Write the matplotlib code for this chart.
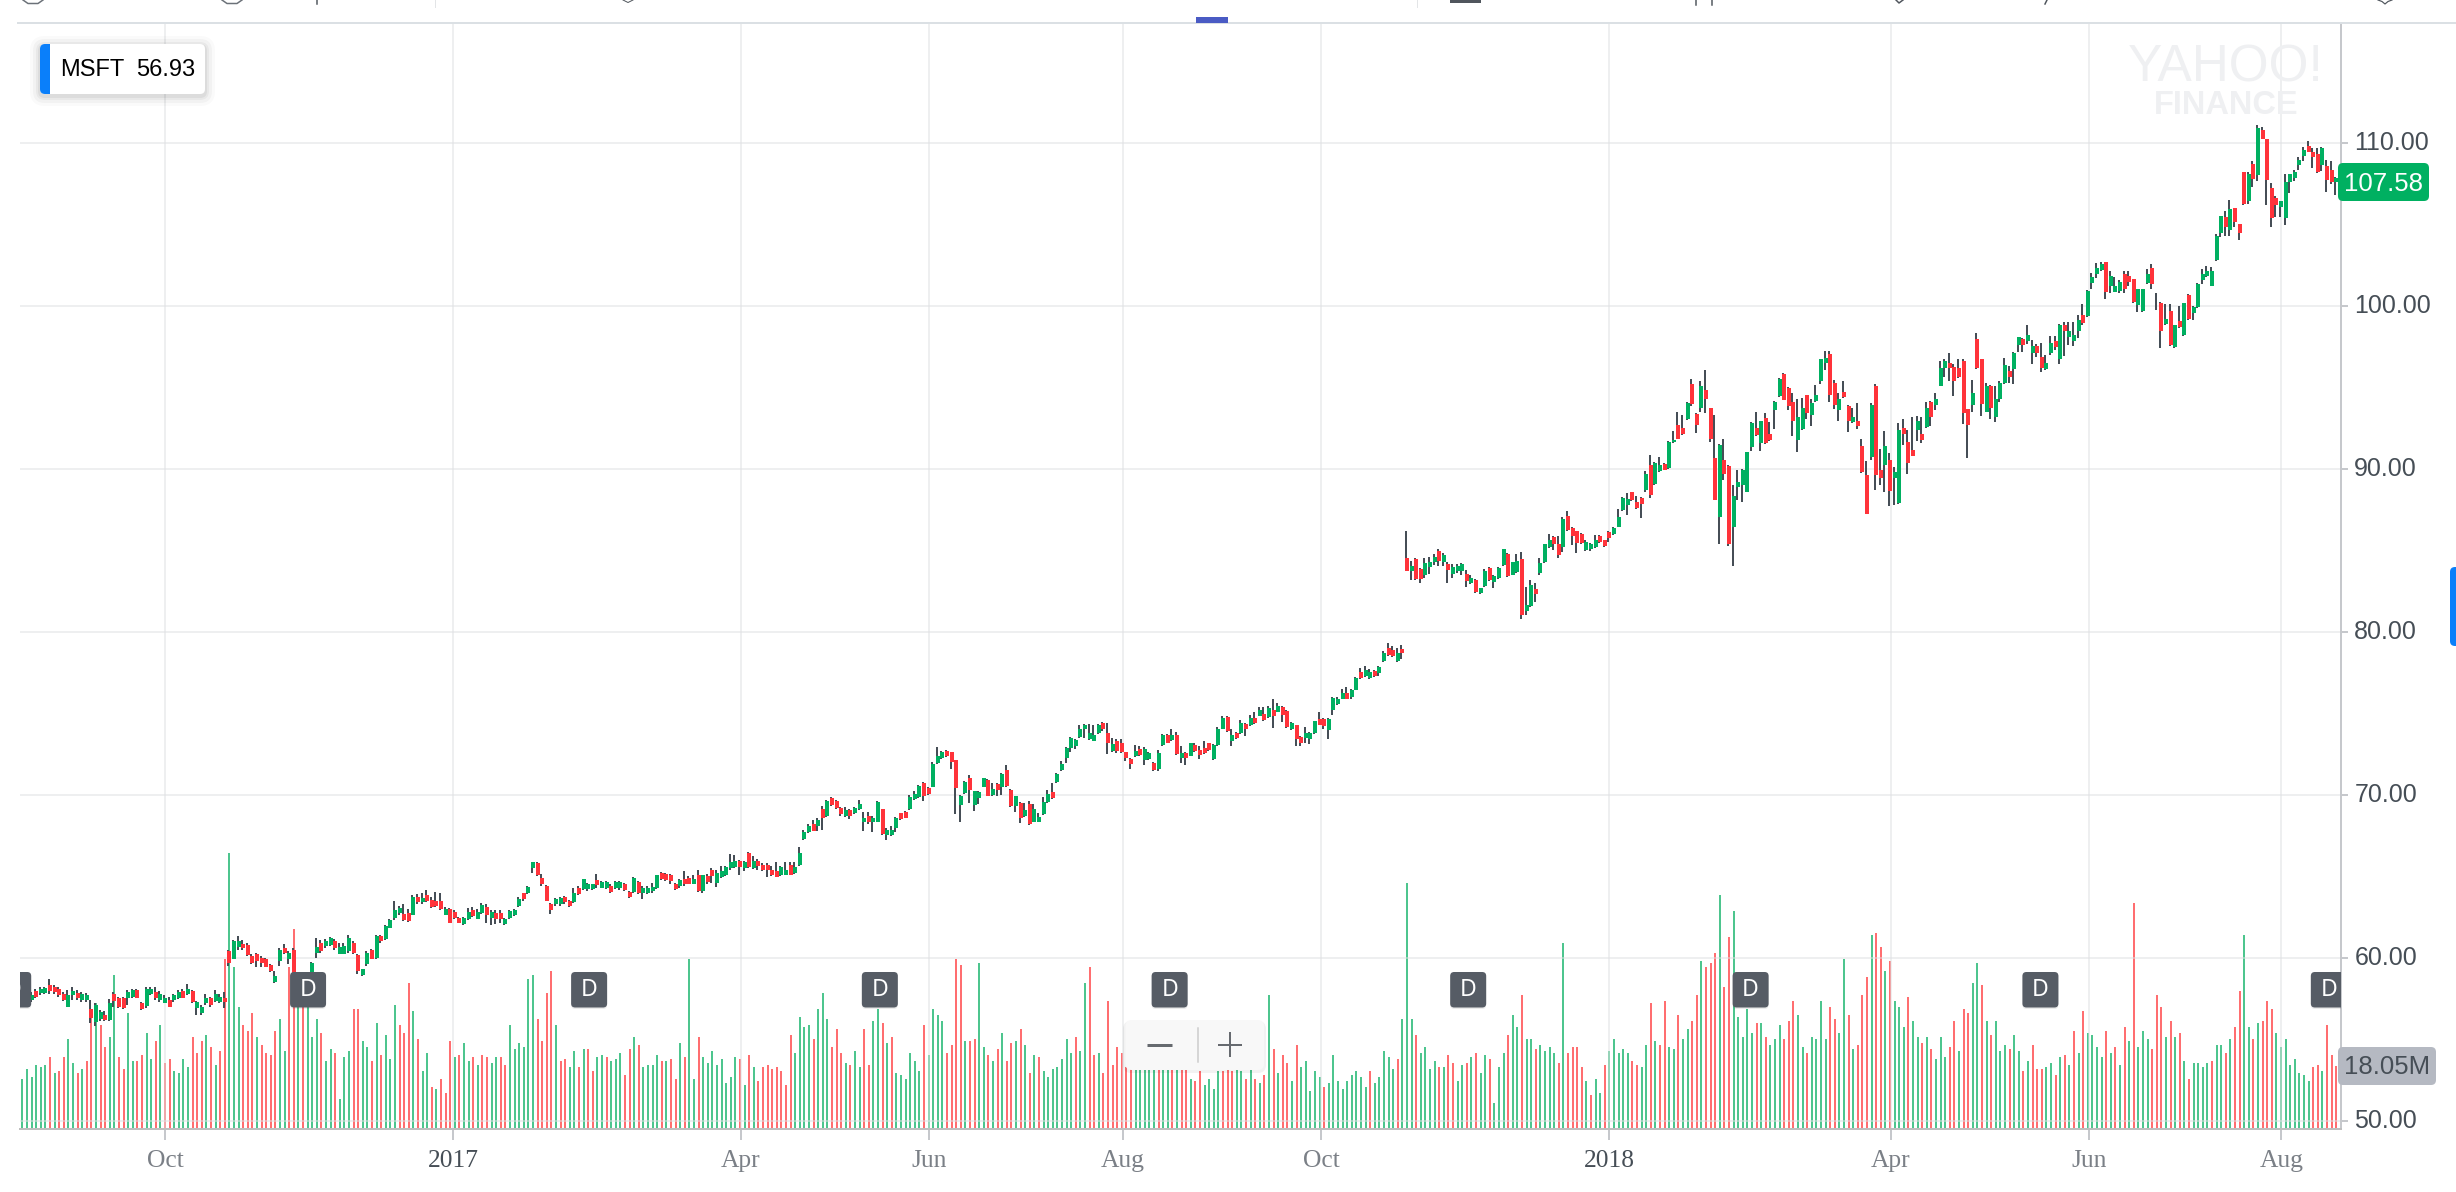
# MSFT candles and volume, daily, Aug 2016 - Aug 2018
import matplotlib
matplotlib.use("Agg")
import matplotlib.pyplot as plt
from matplotlib.patches import FancyBboxPatch, Rectangle
from matplotlib.transforms import ScaledTranslation

# Candle bodies and wicks, one entry per trading day
candle_colors = (
    "gggrggrrrr" "ggrggrggrg" "rrrggrrggr" "ggrggrgrgg" "grggrrggrr" "rrrrrggrgr" "gggggrggrg" "ggrrggrgrg" "gggrrgrgrr"
    "rrgrrrggrg" "grgrrggggr" "ggrrrrggrr" "grgggrggrg" "grrgrggggr" "rrrgrrgrgr" "rgggggrgrg" "rrrrrggrgg" "ggrgrgrrrg"
    "rgggrggrgg" "grrgggrrgg" "grrrggrggg" "rgrgrrgrgr" "ggggrggggg" "gggggrrgrr" "rrgrggrggr" "grgrgrrrrg" "ggrgrgrgrg"
    "rgrgrrgrrg" "ggrrggggrg" "grggrggrrg" "rrgrrgggrg" "rgggrgrggr" "gggrggrggr" "gggrrgrrrr" "gggrrrgggg" "rrrgrggrgg"
    "rrgrrgrrrg" "rrgggggrgr" "rggrrrggrg" "gggrrgrrgr" "rrgrrgrggr" "rrgrgrgggr" "rrrrgrrgrg" "ggrggrggrr" "ggrgrgggrg"
    "gggrgggrrr" "gggrgrgrgr" "grgggggggr" "grrrgrgrrr" "rggggggrrr" "grrg"
)

body_tops = [
    57.65, 57.65, 57.7, 57.95, 58.05, 58.15, 58.3, 58.2, 58.1, 57.75,
    57.7, 57.95, 57.85, 57.75, 57.7, 56.85, 57.1, 56.65, 56.5, 57.25,
    57.75, 57.5, 57.5, 57.9, 58.0, 58.0, 57.2, 58.1, 58.1, 57.9,
    57.8, 57.55, 57.4, 57.7, 57.9, 57.95, 58.1, 57.95, 57.3, 56.95,
    57.55, 57.5, 57.8, 57.6, 57.55, 60.4, 61.0, 61.0, 60.85, 60.8,
    60.1, 60.2, 60.0, 59.9, 59.55, 58.85, 60.5, 60.6, 60.3, 60.5,
    59.1, 59.1, 59.0, 59.7, 60.65, 60.9, 61.0, 61.2, 61.0, 60.65,
    60.7, 61.2, 60.9, 60.15, 59.3, 60.3, 60.5, 61.35, 61.35, 61.95,
    62.3, 62.95, 63.05, 62.7, 62.75, 63.75, 63.75, 63.65, 63.85, 63.55,
    63.5, 63.45, 63.0, 63.0, 62.8, 62.45, 62.45, 62.8, 62.9, 62.8,
    63.25, 63.1, 62.8, 62.75, 62.75, 62.4, 62.85, 62.95, 63.6, 63.95,
    64.35, 65.85, 65.8, 64.9, 64.4, 63.3, 63.6, 63.65, 63.75, 63.5,
    64.0, 64.3, 64.8, 64.5, 64.5, 64.75, 64.65, 64.65, 64.4, 64.65,
    64.65, 64.55, 64.05, 64.9, 64.65, 64.3, 64.3, 64.35, 65.05, 65.2,
    65.15, 65.05, 64.55, 64.75, 64.8, 64.9, 64.85, 65.05, 65.05, 65.0,
    65.4, 65.2, 65.3, 65.55, 65.85, 65.95, 65.95, 65.85, 66.4, 65.95,
    65.95, 65.7, 65.7, 65.4, 65.3, 65.55, 65.4, 65.7, 65.55, 66.4,
    67.7, 68.1, 68.2, 68.45, 69.1, 69.6, 69.8, 69.6, 69.2, 69.05,
    69.05, 69.2, 69.45, 68.6, 68.7, 68.6, 69.55, 69.1, 67.85, 67.85,
    68.6, 68.85, 68.95, 69.85, 70.05, 70.55, 70.7, 70.4, 71.9, 72.35,
    72.6, 72.7, 72.6, 72.1, 69.95, 70.8, 71.0, 70.2, 70.15, 71.0,
    70.9, 70.35, 70.65, 71.3, 71.5, 70.3, 69.9, 69.5, 69.05, 69.4,
    69.15, 68.65, 69.55, 70.05, 70.15, 71.3, 71.9, 72.85, 73.5, 73.35,
    74.0, 74.3, 73.8, 73.65, 74.3, 74.4, 73.8, 73.1, 73.3, 73.2,
    72.6, 72.2, 72.7, 72.8, 72.8, 72.55, 71.95, 72.55, 73.65, 73.65,
    73.65, 73.65, 72.55, 72.55, 73.15, 73.05, 72.75, 72.85, 73.15, 73.05,
    74.0, 74.7, 74.75, 73.65, 73.8, 74.4, 74.35, 74.7, 74.7, 75.2,
    74.95, 75.3, 75.2, 75.45, 75.35, 75.15, 74.4, 74.25, 73.55, 73.8,
    73.8, 74.5, 74.65, 74.65, 74.65, 75.95, 75.9, 76.25, 76.25, 76.4,
    77.15, 77.5, 77.65, 77.55, 77.6, 77.85, 78.7, 79.0, 78.85, 78.7,
    78.95, 84.5, 84.05, 84.45, 83.85, 84.2, 84.25, 84.6, 84.95, 84.7,
    84.15, 83.95, 84.0, 84.15, 83.55, 83.3, 83.2, 82.65, 83.75, 83.9,
    83.4, 83.9, 85.05, 84.75, 84.25, 84.35, 84.45, 81.65, 82.85, 82.6,
    84.2, 85.35, 85.6, 85.8, 85.4, 86.9, 87.1, 86.35, 86.15, 86.0,
    85.5, 85.35, 85.6, 85.9, 85.6, 86.1, 86.35, 87.05, 88.2, 88.15,
    88.55, 87.95, 88.2, 89.7, 90.2, 90.35, 90.25, 90.3, 91.65, 91.75,
    92.65, 92.5, 94.0, 95.2, 93.35, 95.05, 94.8, 93.7, 90.65, 91.45,
    90.55, 90.15, 88.35, 89.2, 89.95, 91.0, 92.8, 92.5, 92.9, 93.1,
    92.1, 94.1, 95.5, 95.8, 94.95, 94.1, 93.2, 93.75, 94.5, 94.0,
    94.5, 96.7, 96.8, 97.05, 95.25, 94.25, 94.7, 93.85, 93.2, 92.95,
    91.4, 89.6, 93.9, 95.1, 89.95, 91.4, 90.55, 89.8, 92.4, 92.5,
    91.65, 91.15, 92.95, 92.1, 93.7, 94.1, 94.25, 96.15, 96.6, 96.5,
    96.25, 96.15, 96.6, 93.65, 94.65, 97.95, 96.75, 95.1, 95.1, 94.3,
    95.25, 96.35, 96.0, 97.1, 98.05, 97.95, 98.2, 97.5, 97.5, 96.85,
    96.5, 97.7, 97.85, 98.8, 98.8, 98.45, 98.2, 99.1, 99.45, 100.9,
    101.75, 102.3, 102.55, 102.65, 101.8, 101.2, 101.45, 101.95, 101.8, 101.65,
    101.0, 101.0, 101.95, 102.3, 100.2, 100.15, 99.2, 99.65, 98.8, 99.05,
    100.15, 100.65, 99.9, 101.3, 101.95, 102.15, 102.1, 104.25, 105.5, 105.45,
    105.95, 106.0, 105.0, 108.2, 108.1, 108.7, 110.9, 110.75, 110.25, 107.2,
    106.6, 106.4, 107.6, 108.05, 108.2, 108.95, 109.55, 109.8, 109.4, 109.3,
    109.7, 108.55, 108.3, 107.85,
]

body_bottoms = [
    57.4, 57.4, 57.4, 57.6, 57.85, 57.85, 57.95, 57.9, 57.7, 57.4,
    57.0, 57.7, 57.5, 57.4, 57.4, 56.3, 56.05, 56.25, 56.15, 56.15,
    57.35, 56.95, 56.9, 57.5, 57.6, 57.55, 56.85, 57.05, 57.8, 57.5,
    57.4, 57.25, 57.0, 57.4, 57.55, 57.55, 57.75, 57.3, 56.9, 56.6,
    57.2, 57.1, 57.35, 57.3, 57.3, 59.7, 59.95, 60.65, 60.6, 60.15,
    59.65, 59.8, 59.7, 59.45, 59.2, 58.5, 59.8, 60.3, 59.95, 59.0,
    58.6, 58.7, 58.5, 59.0, 60.3, 60.4, 60.7, 60.8, 60.6, 60.25,
    60.25, 60.4, 60.3, 59.2, 58.95, 59.6, 59.9, 60.0, 61.0, 61.15,
    61.85, 62.45, 62.75, 62.3, 62.25, 62.65, 63.4, 63.4, 63.5, 63.1,
    63.2, 63.0, 62.65, 62.15, 62.45, 62.15, 62.05, 62.35, 62.55, 62.4,
    62.75, 62.6, 62.45, 62.4, 62.4, 62.05, 62.45, 62.65, 63.2, 63.6,
    64.0, 65.5, 65.1, 64.55, 63.5, 62.95, 63.3, 63.3, 63.4, 63.2,
    63.4, 63.9, 64.2, 64.2, 64.2, 64.45, 64.3, 64.3, 64.05, 64.25,
    64.3, 64.15, 63.7, 64.05, 63.95, 63.95, 63.95, 64.1, 64.25, 64.8,
    64.75, 64.7, 64.2, 64.4, 64.5, 64.55, 64.55, 64.1, 64.1, 64.65,
    65.0, 64.6, 64.95, 65.05, 65.5, 65.55, 65.55, 65.5, 65.55, 65.5,
    65.6, 65.35, 65.35, 65.05, 64.95, 65.05, 65.1, 65.1, 65.2, 65.7,
    67.3, 67.7, 67.8, 68.1, 68.6, 68.7, 69.35, 69.2, 68.8, 68.7,
    68.7, 68.85, 69.1, 68.3, 68.35, 68.3, 68.35, 67.6, 67.5, 67.5,
    67.95, 68.5, 68.6, 69.1, 69.75, 69.85, 69.95, 70.05, 70.5, 71.95,
    72.25, 72.35, 72.0, 70.4, 69.35, 70.1, 70.3, 69.35, 69.8, 70.5,
    69.95, 70.0, 70.3, 70.5, 70.55, 69.3, 69.3, 68.55, 68.7, 68.2,
    68.35, 68.35, 68.8, 69.55, 69.8, 70.75, 71.5, 72.25, 72.85, 73.0,
    73.55, 74.0, 73.4, 73.3, 73.8, 74.05, 73.2, 72.7, 72.7, 72.6,
    72.25, 71.9, 72.35, 72.45, 72.1, 72.2, 71.5, 71.6, 73.05, 73.2,
    73.35, 72.5, 72.25, 72.25, 72.4, 72.7, 72.45, 72.55, 72.75, 72.2,
    73.05, 74.05, 73.9, 73.3, 73.45, 73.8, 74.0, 74.25, 74.4, 74.85,
    74.6, 74.75, 74.85, 75.1, 74.9, 74.15, 74.0, 73.4, 73.2, 73.45,
    73.4, 73.8, 74.3, 74.2, 73.95, 75.2, 75.55, 75.9, 75.9, 76.0,
    76.45, 77.15, 77.3, 77.15, 77.3, 77.45, 78.2, 78.6, 78.5, 78.2,
    78.7, 83.75, 83.7, 83.25, 83.25, 83.5, 83.95, 84.25, 84.35, 84.25,
    83.8, 83.55, 83.7, 83.7, 83.1, 83.0, 82.45, 82.35, 82.8, 83.15,
    83.05, 83.3, 84.1, 83.4, 83.5, 83.65, 81.05, 81.3, 81.55, 82.3,
    83.6, 84.25, 85.2, 85.35, 84.7, 85.2, 86.25, 85.85, 85.45, 85.45,
    85.0, 85.05, 85.2, 85.5, 85.25, 85.75, 86.0, 86.45, 87.45, 87.8,
    88.05, 87.6, 87.85, 88.7, 88.4, 89.05, 89.85, 89.95, 90.05, 91.65,
    91.85, 92.15, 93.05, 93.95, 92.7, 93.7, 94.25, 91.8, 88.1, 87.05,
    89.65, 85.4, 86.4, 88.85, 89.0, 88.6, 91.35, 92.05, 91.55, 91.55,
    91.75, 93.6, 94.45, 94.2, 93.85, 92.95, 91.75, 92.45, 93.4, 93.3,
    94.15, 95.35, 96.5, 94.5, 93.9, 93.6, 94.4, 92.9, 92.85, 92.6,
    89.8, 87.25, 90.7, 89.6, 89.45, 90.2, 88.65, 89.45, 87.9, 92.15,
    90.35, 90.8, 92.35, 91.75, 92.55, 93.15, 93.9, 95.1, 96.2, 96.2,
    95.4, 95.6, 93.4, 92.7, 93.9, 96.15, 93.95, 93.5, 93.75, 93.2,
    94.3, 95.25, 95.65, 96.1, 97.6, 97.6, 97.85, 97.1, 97.1, 96.2,
    96.1, 97.1, 97.45, 96.75, 98.45, 98.05, 97.85, 98.45, 98.95, 99.35,
    101.4, 101.95, 102.2, 100.85, 101.2, 100.85, 100.9, 101.0, 101.45, 100.2,
    100.05, 99.7, 101.4, 101.35, 100.2, 98.45, 98.85, 97.6, 97.45, 98.7,
    98.2, 99.2, 99.55, 99.9, 101.6, 101.8, 101.2, 102.8, 104.45, 104.85,
    104.65, 105.15, 104.45, 106.25, 106.4, 107.75, 108.0, 110.25, 107.7, 105.4,
    106.15, 106.05, 105.4, 107.6, 107.85, 108.6, 109.2, 109.45, 109.1, 108.2,
    108.6, 107.7, 107.6, 107.6,
]

wick_highs = [
    57.9, 57.8, 57.9, 58.1, 58.2, 58.2, 58.7, 58.3, 58.2, 57.9,
    58.0, 58.2, 58.0, 57.9, 57.85, 57.4, 57.2, 56.8, 56.7, 57.45,
    57.9, 57.6, 57.6, 58.0, 58.1, 58.1, 57.3, 58.2, 58.2, 58.2,
    57.95, 57.7, 57.6, 57.8, 58.0, 58.1, 58.4, 58.0, 57.35, 57.1,
    57.8, 57.6, 58.0, 57.8, 57.9, 60.45, 61.1, 61.35, 61.1, 60.9,
    60.2, 60.3, 60.1, 60.0, 59.6, 59.2, 60.6, 60.85, 60.4, 60.6,
    59.1, 59.15, 59.1, 59.75, 61.2, 61.1, 61.15, 61.25, 61.15, 60.9,
    60.9, 61.4, 61.0, 60.2, 59.3, 60.4, 60.55, 61.4, 61.4, 62.0,
    62.35, 63.45, 63.2, 63.3, 63.0, 63.85, 63.9, 64.0, 64.15, 63.75,
    64.05, 64.0, 63.1, 63.05, 62.95, 62.5, 62.5, 63.05, 63.1, 63.0,
    63.35, 63.3, 62.95, 62.9, 62.95, 62.45, 62.9, 63.0, 63.7, 64.0,
    64.4, 65.9, 65.85, 65.15, 64.45, 63.35, 63.65, 63.7, 63.8, 63.55,
    64.3, 64.4, 64.85, 64.6, 64.55, 65.15, 64.7, 64.7, 64.5, 64.7,
    64.7, 64.6, 64.1, 64.95, 64.7, 64.4, 64.4, 64.6, 65.1, 65.25,
    65.2, 65.15, 64.6, 64.85, 65.3, 65.0, 65.1, 65.4, 65.1, 65.15,
    65.5, 65.4, 65.6, 65.6, 66.35, 66.3, 66.0, 65.95, 66.5, 66.25,
    66.05, 65.8, 65.8, 65.6, 65.85, 65.6, 65.9, 65.85, 65.85, 66.8,
    67.85, 68.2, 68.45, 68.55, 69.3, 69.65, 69.85, 69.65, 69.25, 69.25,
    69.1, 69.25, 69.65, 68.95, 68.95, 68.7, 69.6, 69.15, 67.95, 68.1,
    68.65, 68.9, 69.0, 70.0, 70.2, 70.6, 70.8, 70.5, 72.0, 72.9,
    72.7, 72.75, 72.65, 72.15, 70.0, 70.85, 71.2, 70.25, 70.2, 71.05,
    70.95, 70.7, 70.7, 71.35, 71.8, 70.35, 69.95, 69.55, 69.5, 69.6,
    69.45, 68.9, 69.85, 70.3, 70.7, 71.35, 72.05, 72.9, 73.55, 73.4,
    74.3, 74.35, 74.35, 74.3, 74.35, 74.45, 74.4, 73.5, 73.4, 73.4,
    72.65, 72.25, 73.05, 73.0, 72.95, 72.6, 72.0, 72.75, 73.7, 73.7,
    74.05, 73.85, 73.0, 72.6, 73.2, 73.15, 73.0, 73.3, 73.2, 73.1,
    74.15, 74.85, 74.8, 74.05, 73.85, 74.6, 74.4, 74.9, 75.1, 75.4,
    75.4, 75.45, 75.85, 75.6, 75.45, 75.2, 74.45, 74.3, 73.6, 74.15,
    73.85, 74.55, 75.1, 74.7, 74.7, 76.0, 76.0, 76.5, 76.6, 76.5,
    77.2, 77.8, 77.9, 77.7, 77.65, 77.9, 78.8, 79.3, 79.15, 79.0,
    79.2, 86.2, 84.35, 84.5, 83.9, 84.5, 84.6, 84.75, 85.05, 84.85,
    84.3, 84.15, 84.15, 84.2, 83.8, 83.5, 83.25, 82.7, 83.85, 83.95,
    83.5, 83.95, 85.1, 84.8, 84.3, 84.75, 84.9, 82.75, 83.2, 83.0,
    84.55, 85.4, 86.0, 85.85, 85.85, 87.05, 87.4, 86.4, 86.2, 86.05,
    85.6, 85.45, 85.95, 85.95, 85.65, 86.2, 86.4, 87.5, 88.25, 88.5,
    88.6, 88.35, 88.25, 89.85, 90.85, 90.4, 90.7, 90.35, 91.7, 92.3,
    93.45, 93.3, 94.1, 95.5, 93.4, 95.35, 96.05, 93.75, 93.3, 91.5,
    91.8, 90.2, 89.0, 89.9, 90.0, 91.05, 92.85, 93.45, 92.95, 93.4,
    92.85, 94.15, 95.55, 95.85, 95.0, 94.65, 94.25, 94.35, 94.55, 94.25,
    95.15, 96.75, 97.25, 97.25, 95.45, 94.65, 95.4, 93.9, 93.7, 94.05,
    91.8, 90.5, 94.05, 95.2, 91.2, 92.3, 90.95, 90.1, 92.8, 93.05,
    92.4, 93.2, 93.25, 93.2, 94.1, 94.15, 94.65, 96.6, 96.75, 97.1,
    96.45, 96.7, 96.75, 93.65, 95.45, 98.3, 96.75, 95.25, 95.15, 95.1,
    95.4, 96.8, 96.3, 97.15, 98.05, 98.0, 98.8, 97.9, 97.65, 97.7,
    97.0, 98.15, 98.15, 98.85, 99.0, 99.0, 99.0, 99.4, 100.1, 100.95,
    102.0, 102.6, 102.7, 102.7, 102.1, 101.75, 101.6, 102.1, 102.1, 101.65,
    101.0, 101.05, 102.25, 102.55, 100.8, 100.2, 100.1, 100.1, 98.8, 100.0,
    100.15, 100.7, 99.95, 101.4, 102.25, 102.45, 102.4, 104.4, 105.5, 105.8,
    106.5, 106.0, 105.0, 108.2, 108.2, 108.9, 111.1, 110.95, 110.25, 107.5,
    106.7, 106.4, 108.1, 108.1, 108.35, 109.15, 109.75, 110.1, 109.65, 109.65,
    109.75, 108.95, 108.85, 107.9,
]

wick_lows = [
    57.2, 57.2, 57.3, 57.5, 57.7, 57.8, 57.8, 57.8, 57.6, 57.35,
    56.95, 57.4, 57.4, 57.3, 57.3, 56.0, 55.8, 56.1, 56.1, 56.1,
    57.0, 56.9, 56.85, 57.1, 57.5, 57.5, 56.8, 56.9, 57.7, 57.4,
    57.3, 57.2, 56.95, 57.3, 57.45, 57.5, 57.7, 57.2, 56.5, 56.5,
    57.1, 57.0, 57.3, 57.2, 56.9, 59.5, 59.9, 60.5, 60.5, 60.1,
    59.6, 59.4, 59.4, 59.4, 59.1, 58.45, 59.5, 60.2, 59.6, 58.7,
    58.4, 58.4, 58.3, 58.9, 60.0, 60.3, 60.6, 60.7, 60.5, 60.2,
    60.2, 60.3, 60.25, 59.0, 58.9, 59.5, 59.9, 59.95, 60.9, 61.1,
    61.8, 62.3, 62.6, 62.25, 62.2, 62.6, 63.3, 63.3, 63.4, 63.05,
    63.1, 62.95, 62.6, 62.1, 62.4, 62.1, 62.0, 62.3, 62.5, 62.35,
    62.7, 62.1, 62.0, 62.05, 62.1, 62.0, 62.4, 62.55, 63.1, 63.5,
    63.9, 65.2, 65.0, 64.4, 63.5, 62.7, 63.2, 63.2, 63.3, 63.1,
    63.35, 63.85, 64.15, 64.1, 64.15, 64.3, 64.25, 64.2, 63.95, 64.2,
    64.15, 64.1, 63.65, 64.0, 63.9, 63.6, 63.9, 64.0, 64.2, 64.75,
    64.7, 64.55, 64.15, 64.3, 64.4, 64.5, 64.5, 64.05, 64.0, 64.5,
    64.6, 64.35, 64.9, 65.0, 65.4, 65.5, 65.1, 65.3, 65.5, 65.45,
    65.4, 65.3, 64.95, 65.0, 64.95, 65.0, 65.05, 65.05, 65.15, 65.6,
    67.25, 67.65, 67.75, 67.75, 67.85, 68.65, 69.3, 69.15, 68.7, 68.65,
    68.5, 68.8, 69.05, 67.8, 68.2, 67.7, 68.3, 67.55, 67.2, 67.45,
    67.7, 68.45, 68.55, 69.05, 69.7, 69.8, 69.6, 70.0, 70.45, 71.9,
    72.2, 72.3, 71.55, 68.8, 68.35, 70.05, 69.5, 69.0, 69.4, 70.45,
    69.9, 69.95, 69.9, 70.0, 70.5, 69.25, 68.95, 68.25, 68.65, 68.15,
    68.3, 68.3, 68.75, 69.5, 69.75, 70.7, 71.45, 71.95, 72.6, 72.8,
    73.5, 73.5, 73.35, 73.3, 73.75, 73.9, 72.5, 72.65, 72.55, 72.55,
    72.05, 71.6, 72.3, 72.4, 71.85, 72.15, 71.45, 71.45, 73.0, 73.15,
    73.3, 72.45, 71.95, 71.8, 72.35, 72.65, 72.2, 72.5, 72.7, 72.15,
    73.0, 74.0, 73.85, 73.0, 73.4, 73.75, 73.6, 74.2, 74.35, 74.8,
    74.55, 74.7, 74.1, 75.05, 74.45, 74.1, 73.95, 73.0, 73.0, 73.2,
    73.1, 73.75, 74.25, 74.05, 73.4, 74.9, 75.5, 75.85, 75.85, 75.9,
    76.4, 77.1, 77.25, 77.1, 77.25, 77.3, 78.15, 78.5, 78.45, 78.15,
    78.3, 83.7, 83.2, 83.2, 83.0, 83.3, 83.55, 84.1, 84.0, 84.0,
    83.0, 83.3, 83.6, 83.5, 82.75, 82.9, 82.4, 82.3, 82.75, 83.1,
    82.7, 83.25, 84.05, 83.35, 83.45, 83.6, 80.8, 81.0, 81.5, 81.8,
    83.45, 84.2, 85.15, 85.0, 84.55, 84.9, 86.2, 85.3, 84.8, 85.4,
    84.95, 84.95, 85.15, 85.45, 85.2, 85.5, 85.95, 86.4, 87.4, 87.15,
    88.0, 87.55, 86.95, 88.6, 88.2, 89.0, 89.8, 89.9, 90.0, 91.6,
    91.8, 92.05, 93.0, 93.85, 92.2, 93.5, 93.4, 91.65, 88.05, 85.4,
    89.3, 85.25, 84.0, 88.05, 87.95, 88.55, 91.1, 92.0, 91.1, 91.5,
    91.7, 92.45, 94.4, 94.2, 93.6, 92.0, 91.0, 92.4, 93.05, 92.6,
    94.1, 95.2, 96.05, 94.1, 93.65, 92.95, 94.35, 92.25, 92.8, 92.45,
    89.75, 87.2, 90.55, 88.7, 89.0, 88.55, 87.7, 87.75, 87.85, 91.45,
    89.65, 90.75, 91.7, 91.6, 92.5, 92.6, 93.6, 95.05, 95.65, 95.35,
    94.45, 95.55, 92.75, 90.65, 93.5, 96.1, 93.25, 93.45, 93.05, 92.85,
    94.1, 95.2, 95.25, 95.2, 97.15, 97.15, 97.65, 96.45, 96.85, 95.95,
    96.05, 96.95, 97.3, 96.45, 96.9, 97.6, 97.55, 98.0, 98.8, 99.3,
    101.0, 101.7, 102.1, 100.4, 100.8, 100.85, 100.75, 100.8, 101.2, 100.15,
    99.6, 99.6, 101.35, 101.05, 99.75, 97.4, 98.8, 97.55, 97.4, 98.65,
    98.15, 99.1, 99.15, 99.85, 101.3, 101.75, 101.2, 102.75, 104.2, 104.3,
    104.3, 104.85, 104.0, 106.2, 106.25, 107.3, 107.65, 110.2, 106.15, 104.85,
    105.45, 105.45, 104.95, 106.9, 107.65, 108.3, 108.9, 109.4, 108.45, 108.15,
    108.25, 106.95, 107.45, 106.8,
]

# Volume in millions, coloured against the previous close
volumes = [
    14.4, 17.1, 14.9, 18.3, 17.8, 18.3, 20.6, 16.0, 16.6, 20.6,
    25.8, 18.9, 16.0, 17.1, 19.4, 32.2, 36.0, 29.8, 23.5, 26.3,
    44.2, 20.6, 17.1, 33.2, 19.4, 19.4, 21.2, 27.5, 20.0, 25.2,
    29.8, 18.9, 20.0, 16.6, 16.0, 20.0, 17.7, 26.3, 21.7, 25.2,
    26.9, 23.5, 18.3, 22.3, 48.8, 79.1, 46.6, 35.0, 29.8, 28.1,
    33.2, 26.3, 24.0, 21.7, 21.2, 28.1, 31.5, 22.3, 46.6, 57.4,
    44.6, 44.6, 42.7, 26.3, 31.5, 27.5, 19.4, 22.9, 21.7, 8.5,
    20.6, 22.3, 34.4, 34.4, 25.2, 23.5, 19.4, 30.4, 21.2, 26.9,
    20.0, 35.5, 29.8, 27.5, 41.9, 33.8, 25.8, 16.6, 21.7, 12.0,
    11.4, 14.3, 10.2, 25.2, 20.6, 21.2, 24.6, 19.4, 20.6, 18.3,
    21.2, 20.6, 18.9, 20.6, 20.6, 18.3, 29.8, 22.9, 24.6, 23.5,
    43.0, 44.2, 31.5, 25.2, 39.0, 45.3, 29.8, 19.4, 20.0, 17.7,
    22.3, 17.7, 22.9, 22.9, 16.6, 20.6, 21.2, 20.6, 19.4, 20.0,
    21.7, 15.4, 22.9, 26.3, 24.0, 17.7, 18.3, 18.3, 21.2, 19.4,
    19.4, 20.0, 14.3, 24.6, 20.6, 48.8, 14.3, 26.3, 20.6, 18.9,
    22.3, 18.3, 20.0, 13.1, 14.8, 20.6, 20.0, 12.5, 21.2, 17.7,
    13.7, 17.7, 18.3, 17.1, 17.7, 16.6, 12.5, 26.9, 21.7,
    32.1, 29.2, 29.8, 25.8, 34.4, 39.0, 31.5, 23.5, 28.6, 21.7,
    18.9, 18.3, 22.3, 17.7, 28.6, 18.3, 30.9, 34.4, 30.4, 24.6,
    26.3, 16.0, 15.4, 14.3, 21.7, 19.4, 16.6, 29.8, 21.2, 34.4,
    32.7, 30.9, 21.7, 24.0, 48.8, 47.0, 25.2, 25.2, 25.8, 47.6,
    23.5, 21.2, 19.4, 22.9, 27.5, 19.4, 24.6, 25.2, 28.6, 24.0,
    16.0, 21.2, 20.6, 16.6, 14.8, 17.1, 17.7, 20.0, 25.8, 21.7,
    26.3, 22.3, 41.9, 46.5, 21.2, 21.7, 16.0, 36.7, 18.3, 23.5,
    21.7, 17.7, 20.7, 18.8, 17.8, 19.7, 20.7, 18.8, 21.6, 18.8,
    19.7, 18.8, 20.7, 19.7, 16.9, 14.3, 13.7, 16.6, 12.5,
    14.3, 11.4, 16.6, 16.6, 16.9, 16.6, 16.8, 16.6, 14.3, 16.8,
    14.3, 13.1, 15.4, 38.4, 22.9, 16.0, 21.2, 18.9, 13.7, 24.0,
    17.7, 19.4, 10.8, 16.6, 14.8, 12.0, 13.1, 21.2, 13.7, 11.4,
    13.7, 15.4, 16.6, 14.8, 12.0, 16.6, 13.1, 14.8, 22.3, 20.6,
    17.1, 20.0, 31.5, 70.6, 31.5, 26.9, 21.7, 23.5, 17.1, 19.4,
    17.7, 17.7, 21.2, 18.9, 13.7, 18.3, 18.9, 20.6, 21.7, 16.0,
    21.2, 20.0, 7.4, 17.7, 21.7, 26.9, 32.7, 29.2, 38.4, 25.8,
    25.8, 22.9, 24.0, 22.3, 23.5, 21.7, 18.9, 53.4, 21.7, 23.5,
    23.5, 17.7, 13.7, 9.7, 14.3,
    10.2, 18.3, 22.3, 25.8, 21.7, 22.9, 21.7, 19.4, 18.3, 17.7,
    24.0, 36.1, 25.2, 24.0, 36.7, 23.5, 22.9, 32.7, 25.8, 28.6,
    30.9, 38.4, 48.2, 46.5, 47.6, 50.5, 67.1, 40.7, 55.1, 62.5,
    32.2, 26.3, 34.4, 27.5, 30.4, 30.4, 26.3, 24.0, 25.8, 29.8,
    25.8, 30.9, 36.7, 32.7, 23.5, 21.7, 26.3, 25.8, 36.7, 25.8,
    35.0, 31.5, 27.5, 48.8, 32.7, 22.9, 24.0, 38.4, 43.6, 55.7,
    56.2, 52.2, 45.3, 48.2, 36.7, 35.0, 29.2, 37.8, 30.9, 26.3,
    24.6, 26.3, 22.9, 20.0, 26.3, 20.6, 23.5, 30.9, 22.3, 34.4,
    33.2, 41.9, 47.6, 41.3, 30.9, 26.9, 30.9, 22.3, 24.0, 22.9,
    26.9, 22.3, 16.6, 19.4, 24.0, 17.1, 17.1, 17.7, 18.9, 15.4,
    20.6, 21.2, 18.3, 28.1, 21.7, 33.8, 27.5, 26.9, 23.5, 20.6,
    28.1, 21.7, 23.5, 18.3, 29.2, 25.2, 64.8,
    23.5, 28.1, 25.8, 22.9, 38.4, 35.0, 26.3, 30.9, 26.3, 27.5,
    19.4, 14.3, 18.9, 18.9, 17.7, 18.9, 19.4, 24.0, 24.0, 21.7,
    25.8, 29.2, 39.6, 55.7, 29.2, 25.8, 30.4, 30.9, 36.7, 34.4,
    27.5, 23.5, 25.8, 18.3, 20.0, 16.0, 15.4, 13.7, 17.7, 18.3,
    16.6, 29.8, 21.2, 18.05,
]

volume_colors = (
    "ggggggrgrr" "ggrgrrgrrg" "grrggrrggr" "grrggggrrr" "grgrrgggrr" "rgrrrrggrr"
    "grgggrggrg" "ggrrggrgrg" "ggrrrgrggr" "grrrgrggrg" "rrggrrgggg" "ggrrrrgrrg"
    "grgrrggrgg" "grrgrggggr" "grrgrggrgg" "ggggggrgrg" "rrrrrrrrg"
    "gggrgggrrr" "grggrrggrg" "rggggggrgg" "ggrrrrgrrg" "grgrgrrgrg" "rgrggggggg"
    "rggrrgrrrr" "rrrgggggrg" "grgrrgrrg" "gggrrrggrg" "rgrgrgrrgr" "gggggrgggg"
    "gggggrgggg" "grgggrgggg" "rgrrggrgrg" "grgggrggrg" "grggggrgrr" "rrgrg"
    "grgggggrrg" "grgrrggrgg" "rrgrrrgrrg" "ggggrgrggg" "rrrggrgggg" "rrggrgrrrg"
    "rrgrgggrgg" "rgrgggrrgr" "rggrgrgggr" "ggrgrrrggr" "grgrgrgggg" "rgrgrgr"
    "gggrrrgrgr" "grggggrggr" "grrggrgrrr" "ggggggggrr" "grrr"
)

# Axis labels, placed at the trading day each one falls on
date_ticks = [31, 93.6, 156.2, 197.1, 239.3, 282.3, 344.9, 406.2, 449.2, 491.1]
date_labels = ["Oct", "2017", "Apr", "Jun", "Aug", "Oct", "2018", "Apr", "Jun", "Aug"]
price_ticks = [50, 60, 70, 80, 90, 100, 110]
dividend_days = [-2, 62.1, 123.2, 186.4, 249.4, 314.3, 375.7, 438.7, 501.4]

WIDTH, HEIGHT = 2456, 1192
LEFT, RIGHT, TOP, BOTTOM = 20.4, 2341, 22.7, 1128.7
DAY_PX = 4.6
PX = 0.72  # one pixel in points at dpi 100

GREEN, RED = "#00b061", "#ff333a"
VOL_GREEN, VOL_RED = "#4dc58e", "#ff6e70"
INK = "#464e56"
AXIS = "#c6c8cc"
SANS = "Liberation Sans"

fig = plt.figure(figsize=(WIDTH / 100, HEIGHT / 100), dpi=100, facecolor="white")
box = [LEFT / WIDTH, 1 - BOTTOM / HEIGHT, (RIGHT - LEFT) / WIDTH, (BOTTOM - TOP) / HEIGHT]

# Volume sits underneath, on its own scale
vol_ax = fig.add_axes(box, zorder=1)
vol_ax.set_xlim(-0.43, 504.04)
vol_ax.set_ylim(0, (BOTTOM - TOP) / 3.48)
vol_ax.axis("off")
vol_ax.bar(range(len(volumes)), volumes, width=2 / DAY_PX,
           color=[VOL_GREEN if c == "g" else VOL_RED for c in volume_colors])

ax = fig.add_axes(box, zorder=2)
ax.patch.set_visible(False)
ax.set_xlim(-0.43, 504.04)
ax.set_ylim(49.51, 117.36)

ax.grid(True, color="#dfe1e3", alpha=0.5, linewidth=2 * PX, zorder=0)
ax.set_axisbelow(True)

# Candles, the wick sits on the left half of the body
days = list(range(len(body_tops)))
wick_x = [d - 1 / DAY_PX for d in days]
ax.vlines(wick_x, wick_lows, wick_highs, color=INK, linewidth=2 * PX, zorder=3)
heights = [t - b for t, b in zip(body_tops, body_bottoms)]
ax.bar(days, heights, bottom=body_bottoms, width=4 / DAY_PX, zorder=4,
       color=[GREEN if c == "g" else RED for c in candle_colors])

# Axes
for side in ["left", "top"]:
    ax.spines[side].set_visible(False)
ax.spines["right"].set_color(AXIS)
ax.spines["right"].set_linewidth(2 * PX)
ax.spines["bottom"].set_color("#bebebe")
ax.spines["bottom"].set_linewidth(2 * PX)

ax.yaxis.tick_right()
ax.set_yticks(price_ticks)
ax.set_yticklabels([f"{p:.2f}" for p in price_ticks], family=SANS, fontsize=18, color=INK)
ax.tick_params(axis="y", length=7 * PX, width=2 * PX, color=AXIS, pad=4.5)
lift = ScaledTranslation(0, 2 / 100, fig.dpi_scale_trans)
for label in ax.get_yticklabels():
    label.set_transform(label.get_transform() + lift)

ax.set_xticks(date_ticks)
ax.set_xticklabels(date_labels, family="Liberation Serif", fontsize=18.4, color="#7b8087")
ax.tick_params(axis="x", length=11 * PX, width=2 * PX, color=AXIS, pad=7.5)
for label in ax.get_xticklabels():
    if label.get_text().startswith("201"):
        label.set_color(INK)

# Overlay in pixels for the pills, buttons and the cut off toolbar
over = fig.add_axes([0, 0, 1, 1], zorder=5)
over.set_xlim(0, WIDTH)
over.set_ylim(HEIGHT, 0)
over.axis("off")


def pill(x0, y0, x1, y1, color, radius=5, **kwargs):
    patch = FancyBboxPatch((x0 + radius, y0 + radius), x1 - x0 - 2 * radius, y1 - y0 - 2 * radius,
                           boxstyle=f"round,pad={radius},rounding_size={radius}",
                           facecolor=color, edgecolor="none", **kwargs)
    over.add_patch(patch)
    return patch


# Toolbar line and what is left of the toolbar above the crop
over.plot([18, WIDTH], [22.7, 22.7], color="#dbe0e4", linewidth=2 * PX, zorder=2)
over.add_patch(Rectangle((1196, 17), 32, 6, facecolor="#4a5bc4", edgecolor="none", zorder=3))
over.plot([23, 28, 38, 43], [0, 3.5, 3.5, 0], color="#6b7178", linewidth=1.5 * PX)
over.plot([222, 227, 237, 242], [0, 3.5, 3.5, 0], color="#6b7178", linewidth=1.5 * PX)
over.plot([317, 317], [0, 4], color="#50565d", linewidth=1.5 * PX)
over.plot([435, 435], [0, 7], color="#e3e5e7", linewidth=1 * PX)
over.plot([623, 628, 633], [0, 2.5, 0], color="#50565d", linewidth=1 * PX)
over.plot([1417, 1417], [0, 7], color="#e3e5e7", linewidth=1 * PX)
over.add_patch(Rectangle((1450, 0), 31, 3, facecolor="#50565d", edgecolor="none"))
over.plot([1696, 1696], [0, 5], color="#50565d", linewidth=1.5 * PX)
over.plot([1712, 1712], [0, 5], color="#50565d", linewidth=1.5 * PX)
over.plot([1896, 1899, 1903], [0, 3, 0], color="#50565d", linewidth=1.5 * PX)
over.plot([2047, 2045], [0, 4], color="#50565d", linewidth=1.5 * PX)
over.plot([2378, 2382, 2385, 2388, 2392], [0, 1.5, 4, 1.5, 0], color="#50565d", linewidth=1.2 * PX)

# Watermark
over.text(2226, 68, "YAHOO!", family=SANS, fontsize=37, color="#eff0f2", ha="center", va="center", zorder=1)
over.text(2226, 106, "FINANCE", family=SANS, fontweight="bold", fontsize=23.5, color="#eff0f2",
          ha="center", va="center", zorder=1)

# Ticker pill with a soft shadow
for grow, alpha in [(10, 0.02), (7, 0.03), (4, 0.04), (2, 0.05)]:
    pill(40 - grow, 44 - grow + 2, 205 + grow, 94 + grow + 2, "black", radius=5 + grow, alpha=alpha)
pill(40, 44, 205, 94, "white")
pill(40, 44, 56, 94, "#0a7ffa")
over.add_patch(Rectangle((50, 44), 8, 50, facecolor="white", edgecolor="none"))
over.text(60, 70.5, "MSFT", family=SANS, fontsize=17, color="black", va="center")
over.text(195, 70.5, "56.93", family=SANS, fontsize=17, color="black", va="center", ha="right")

# Last price and last volume
pill(2338, 163, 2429, 201, "#00b061")
over.text(2383.5, 184, "107.58", family=SANS, fontsize=18.5, color="white", ha="center", va="center")
pill(2338, 1047, 2436, 1085, "#b5b9c2")
over.text(2387, 1067, "18.05M", family=SANS, fontsize=18.5, color=INK, ha="center", va="center")

# Dividend markers, clipped to the plot
clip = Rectangle((LEFT, TOP), RIGHT - LEFT, BOTTOM - TOP, transform=over.transData)
for day in dividend_days:
    cx = 22.4 + day * DAY_PX
    for patch in [pill(cx - 18, 973, cx + 18, 1009, "black", radius=4, alpha=0.08),
                  pill(cx - 18, 972, cx + 18, 1007.5, "#565c65", radius=4)]:
        patch.set_clip_path(clip)
    marker = over.text(cx, 990, "D", family="Noto Sans", fontsize=16.5, color="white", ha="center", va="center")
    marker.set_clip_path(clip)
    marker.set_clip_on(True)

# Zoom buttons
pill(1123, 1021, 1266, 1073, "black", radius=8, alpha=0.05)
pill(1125.5, 1020, 1264, 1070, "#f8f8f8", radius=6)
over.plot([1147, 1172], [1045, 1045], color="#666a6f", linewidth=3 * PX, solid_capstyle="butt")
over.plot([1198, 1198], [1028, 1062], color="#cccccc", linewidth=1.5 * PX)
over.plot([1218, 1242], [1045, 1045], color="#666a6f", linewidth=2 * PX, solid_capstyle="butt")
over.plot([1230, 1230], [1032, 1057], color="#666a6f", linewidth=2 * PX, solid_capstyle="butt")

# Blue handle at the right edge
pill(2450, 567, 2470, 646, "#0a7ffa")

fig.savefig("out.png", dpi=100)
